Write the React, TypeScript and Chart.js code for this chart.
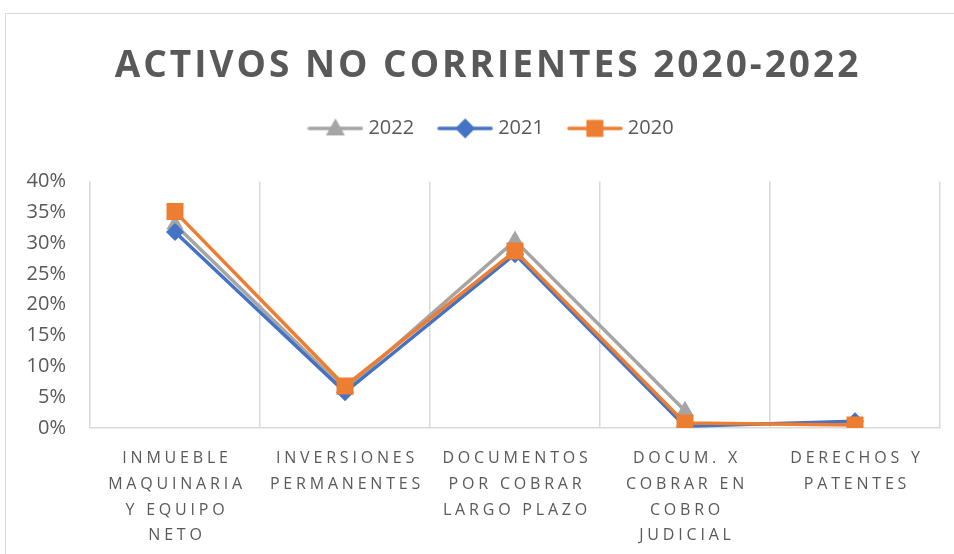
import React, { useEffect, useRef } from 'react';
import { Chart, registerables } from 'chart.js';

Chart.register(...registerables);

const titleText = 'ACTIVOS NO CORRIENTES 2020-2022';
const categories: string[][] = [
  ['INMUEBLE', 'MAQUINARIA', 'Y EQUIPO', 'NETO'],
  ['INVERSIONES', 'PERMANENTES'],
  ['DOCUMENTOS', 'POR COBRAR', 'LARGO PLAZO'],
  ['DOCUM. X', 'COBRAR EN', 'COBRO', 'JUDICIAL'],
  ['DERECHOS Y', 'PATENTES'],
];
const seriesNames = ['2022', '2021', '2020'];
const values2022 = [33.0, 6.2, 30.4, 2.8, null];
const values2021 = [31.8, 5.8, 28.2, 0.3, 1.1];
const values2020 = [35.1, 6.8, 28.7, 0.8, 0.5];
const yMin = 0;
const yMax = 40;
const yStep = 5;

const GRAY = '#A5A5A5';
const BLUE = '#4472C4';
const ORANGE = '#ED7D31';
const TEXT = '#595959';
const GRID = '#D9D9D9';

function drawMarker(g: CanvasRenderingContext2D, style: string, x: number, y: number, r: number) {
  g.beginPath();
  if (style === 'triangle') {
    g.moveTo(x, y - r);
    g.lineTo(x + r * 0.95, y + r * 0.7);
    g.lineTo(x - r * 0.95, y + r * 0.7);
  } else if (style === 'rectRot') {
    g.moveTo(x, y - r);
    g.lineTo(x + r, y);
    g.lineTo(x, y + r);
    g.lineTo(x - r, y);
  } else {
    const s = r * 0.85;
    g.rect(x - s, y - s, 2 * s, 2 * s);
  }
  g.closePath();
  g.fill();
}

function legendImage(color: string, style: string) {
  const c = document.createElement('canvas');
  c.width = 56;
  c.height = 22;
  const g = c.getContext('2d')!;
  g.strokeStyle = color;
  g.lineWidth = 3.5;
  g.lineCap = 'round';
  g.beginPath();
  g.moveTo(2, 11);
  g.lineTo(54, 11);
  g.stroke();
  g.fillStyle = color;
  drawMarker(g, style, 28, 11, 10);
  return c;
}

function wrapDraw(ctx: any, obj: any, method: string, spacing: string, dx: number, dy: number) {
  if (!obj || obj.__patched) return;
  const orig = obj[method].bind(obj);
  obj[method] = (...args: any[]) => {
    ctx.save();
    ctx.letterSpacing = spacing;
    ctx.translate(dx, dy);
    orig(...args);
    ctx.restore();
  };
  obj.__patched = true;
}

const spacingPlugin = {
  id: 'letterSpacingPatch',
  beforeDraw(chart: any) {
    const ctx = chart.ctx;
    wrapDraw(ctx, chart.titleBlock, 'draw', '3px', 15, 0);
    wrapDraw(ctx, chart.legend, 'draw', '0px', 20, 0);
    wrapDraw(ctx, chart.scales.x, 'drawLabels', '3.8px', 2, 1);
  },
};

export default function App() {
  const ref = useRef<HTMLCanvasElement>(null);

  useEffect(() => {
    const canvas = ref.current!;
    const styles = ['triangle', 'rectRot', 'rect'];
    const colors = [GRAY, BLUE, ORANGE];
    const images = styles.map((s, i) => legendImage(colors[i], s));

    const chart = new Chart(canvas, {
      type: 'line',
      data: {
        labels: categories,
        datasets: [
          {
            label: seriesNames[0],
            data: values2022,
            borderColor: GRAY,
            backgroundColor: GRAY,
            borderWidth: 3.5,
            pointStyle: 'triangle',
            pointRadius: 10,
            pointBorderWidth: 0,
            order: 2,
          },
          {
            label: seriesNames[1],
            data: values2021,
            borderColor: BLUE,
            backgroundColor: BLUE,
            borderWidth: 3.5,
            pointStyle: 'rectRot',
            pointRadius: 9,
            pointBorderWidth: 0,
            order: 1,
          },
          {
            label: seriesNames[2],
            data: values2020,
            borderColor: ORANGE,
            backgroundColor: ORANGE,
            borderWidth: 3.5,
            pointStyle: 'rect',
            pointRadius: 12,
            pointBorderWidth: 0,
            order: 0,
          },
        ],
      },
      options: {
        animation: false,
        responsive: false,
        layout: { padding: { left: 0, right: 14, top: 0, bottom: 0 } },
        plugins: {
          tooltip: { enabled: false },
          title: {
            display: true,
            text: titleText,
            color: TEXT,
            font: { family: 'Open Sans', size: 37, weight: 'bold', lineHeight: 1.2 },
            padding: { top: 30, bottom: 2 },
          },
          subtitle: {
            display: true,
            text: '',
            weight: 500,
            font: { size: 10, lineHeight: 1 },
            padding: { top: 23, bottom: 0 },
          } as any,
          legend: {
            display: true,
            position: 'top',
            labels: {
              color: TEXT,
              font: { family: 'Open Sans', size: 20 },
              usePointStyle: true,
              pointStyleWidth: 46,
              padding: 28,
              generateLabels: () =>
                seriesNames.map((name, i) => ({
                  text: name,
                  fillStyle: colors[i],
                  strokeStyle: colors[i],
                  lineWidth: 0,
                  pointStyle: images[i] as any,
                  hidden: false,
                  datasetIndex: i,
                  fontColor: TEXT,
                })),
            },
          },
        },
        scales: {
          x: {
            type: 'category',
            offset: true,
            grid: { display: true, offset: true, color: GRID, lineWidth: 1.5, drawTicks: false },
            border: { display: true, color: GRID, width: 1.5 },
            ticks: {
              color: TEXT,
              font: { family: 'Open Sans', size: 16, lineHeight: 1.6 },
              padding: 17,
              maxRotation: 0,
              minRotation: 0,
              autoSkip: false,
            },
            afterFit: (s: any) => {
              s.height = 126;
            },
          },
          y: {
            min: yMin,
            max: yMax,
            grid: { display: false, drawTicks: false },
            border: { display: false },
            ticks: {
              stepSize: yStep,
              color: TEXT,
              font: { family: 'Open Sans', size: 20 },
              padding: 24,
              callback: (v: any) => `${v}%`,
            },
            afterFit: (s: any) => {
              s.width = 84;
            },
          },
        },
      },
      plugins: [spacingPlugin],
    });

    return () => chart.destroy();
  }, []);

  return (
    <div
      style={{
        position: 'absolute',
        left: 5,
        top: 13,
        width: 949,
        height: 541,
        boxSizing: 'border-box',
        borderLeft: '1px solid #D9D9D9',
        borderTop: '1px solid #D9D9D9',
        background: '#fff',
      }}
    >
      <canvas ref={ref} width={948} height={540} style={{ display: 'block', width: 948, height: 540 }} />
    </div>
  );
}
